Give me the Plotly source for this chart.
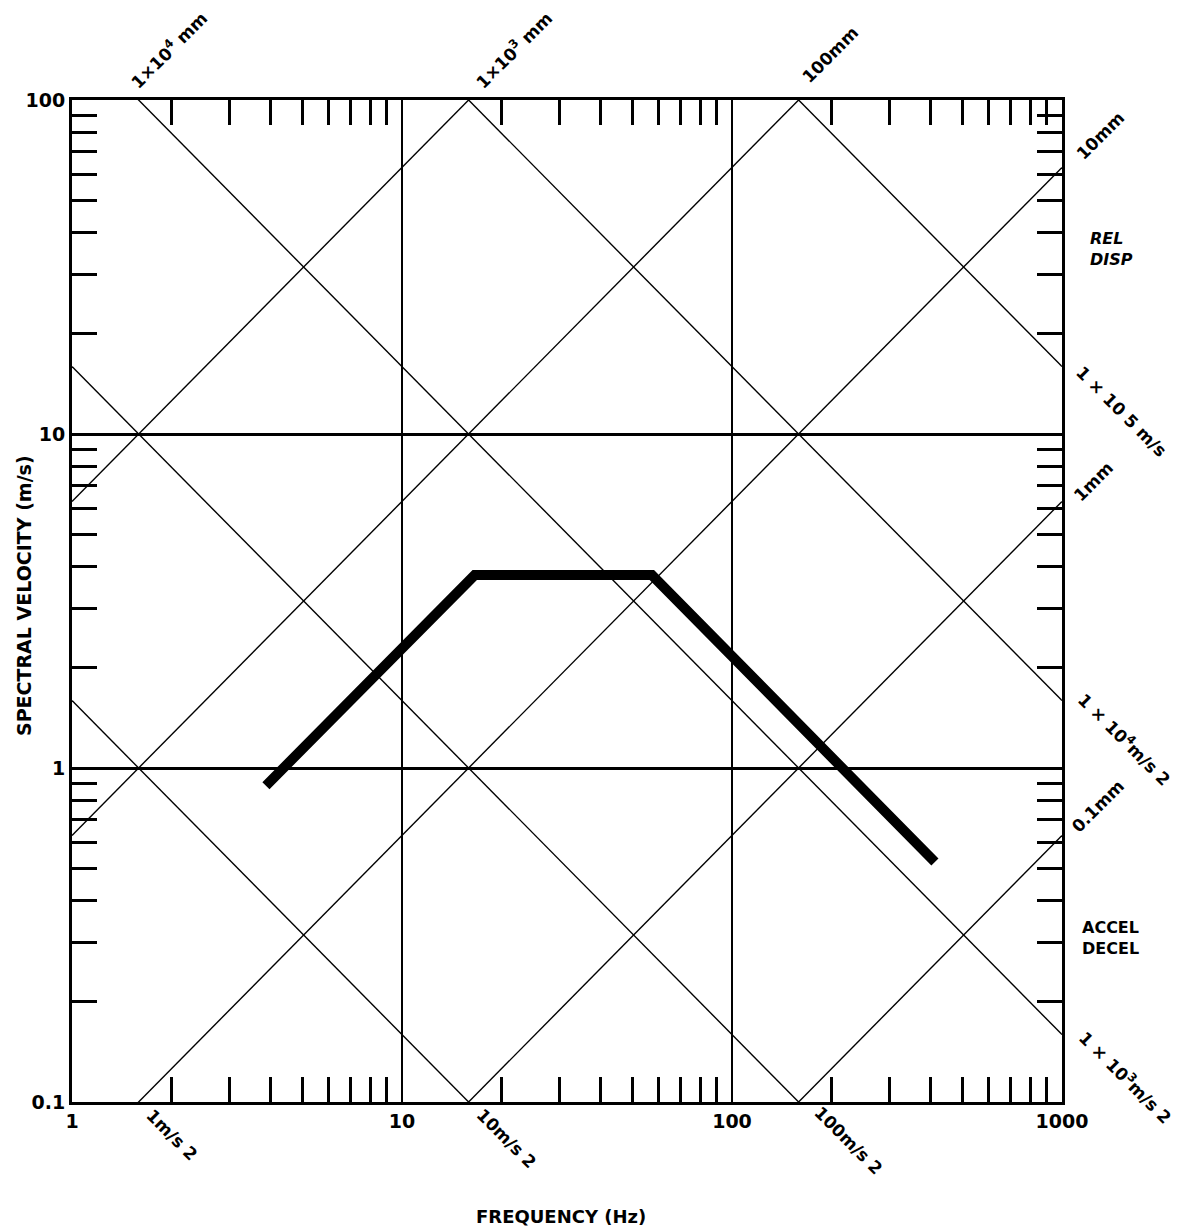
import math
import plotly.graph_objects as go

# Axis ranges and tick labels
freq_ticks = [1, 10, 100, 1000]
freq_tick_text = ["1", "10", "100", "1000"]
vel_ticks = [0.1, 1, 10, 100]
vel_tick_text = ["0.1", "1", "10", "100"]

# Tripartite grid levels
accel_levels = [10, 100, 1000, 1e4, 1e5]          # m/s^2 (constant acceleration lines)
disp_levels = [1.0, 0.1, 0.01, 0.001, 0.0001]     # m (constant displacement lines)

# Design spectrum
spec_freq = [3.87, 16.6, 57.2, 412]
spec_vel = [0.885, 3.78, 3.78, 0.523]

FONT = "DejaVu Sans"

fig = go.Figure()

f_ends = [freq_ticks[0], freq_ticks[-1]]
for a in accel_levels:
    fig.add_trace(go.Scatter(x=f_ends, y=[a / (2 * math.pi * f) for f in f_ends],
                             mode="lines", line=dict(color="black", width=1.4),
                             hoverinfo="skip", showlegend=False))
for d in disp_levels:
    fig.add_trace(go.Scatter(x=f_ends, y=[2 * math.pi * f * d for f in f_ends],
                             mode="lines", line=dict(color="black", width=1.4),
                             hoverinfo="skip", showlegend=False))

fig.add_trace(go.Scatter(x=spec_freq, y=spec_vel, mode="lines",
                         line=dict(color="black", width=10),
                         showlegend=False))

def minor_vals(lo, hi):
    out = []
    e = math.floor(math.log10(lo))
    while 10 ** e < hi:
        for k in range(2, 10):
            v = k * 10 ** e
            if lo < v < hi:
                out.append(v)
        e += 1
    return out

axis_common = dict(
    type="log", showline=True, linecolor="black", linewidth=3, mirror="ticks",
    ticks="inside", ticklen=1, tickwidth=1, tickcolor="black",
    tickfont=dict(family=FONT, size=19, color="black", weight="bold"),
    zeroline=False,
)

fig.update_xaxes(
    **axis_common,
    range=[math.log10(freq_ticks[0]), math.log10(freq_ticks[-1])],
    tickmode="array", tickvals=freq_ticks, ticktext=freq_tick_text,
    showgrid=True, gridcolor="black", gridwidth=1.5,
    minor=dict(tickmode="array", tickvals=minor_vals(freq_ticks[0], freq_ticks[-1]),
               ticks="inside", ticklen=25, tickwidth=3, tickcolor="black", showgrid=False),
)
fig.update_yaxes(
    **axis_common,
    range=[math.log10(vel_ticks[0]), math.log10(vel_ticks[-1])],
    tickmode="array", tickvals=vel_ticks, ticktext=vel_tick_text,
    showgrid=True, gridcolor="black", gridwidth=2.6,
    minor=dict(tickmode="array", tickvals=minor_vals(vel_ticks[0], vel_ticks[-1]),
               ticks="inside", ticklen=25, tickwidth=3, tickcolor="black", showgrid=False),
)

L, R, T, B = 72, 1062, 100, 1102
W, H = 1185, 1229

def px(x, y):
    return (x - L) / (R - L), (B - y) / (B - T)

labels = [
    ("1×10<sup>4</sup> mm", 168, 50, -45, 17),
    ("1×10<sup>3</sup> mm", 513, 50, -45, 17),
    ("100mm", 830, 55, -45, 17),
    ("10mm", 1100, 136, -45, 17),
    ("<i>REL</i><br><i>DISP</i>", 1111, 249, 0, 16),
    ("1 × 10 5 m/s", 1121, 411, 45, 17),
    ("1mm", 1093, 482, -45, 17),
    ("1 × 10<sup>4</sup>m/s 2", 1125, 739, 45, 17),
    ("0.1mm", 1098, 806, -45, 17),
    ("ACCEL<br>DECEL", 1110, 938, 0, 16),
    ("1 × 10<sup>3</sup>m/s 2", 1126, 1077, 45, 17),
    ("1m/s 2", 172, 1135, 45, 17),
    ("10m/s 2", 506, 1138, 45, 17),
    ("100m/s 2", 848, 1140, 45, 17),
    ("FREQUENCY (Hz)", 561, 1216, 0, 18),
    ("SPECTRAL VELOCITY (m/s)", 24, 596, -90, 19),
]
for text, x, y, ang, sz in labels:
    xp, yp = px(x, y)
    fig.add_annotation(text=text, x=xp, y=yp, xref="paper", yref="paper",
                       xanchor="center", yanchor="middle", showarrow=False,
                       textangle=ang, align="left",
                       font=dict(family=FONT, size=sz, color="black", weight="bold"))

fig.update_layout(
    width=W, height=H,
    margin=dict(l=L, r=W - R, t=T, b=H - B),
    plot_bgcolor="white", paper_bgcolor="white",
    showlegend=False,
)

fig.write_html("out.html")
